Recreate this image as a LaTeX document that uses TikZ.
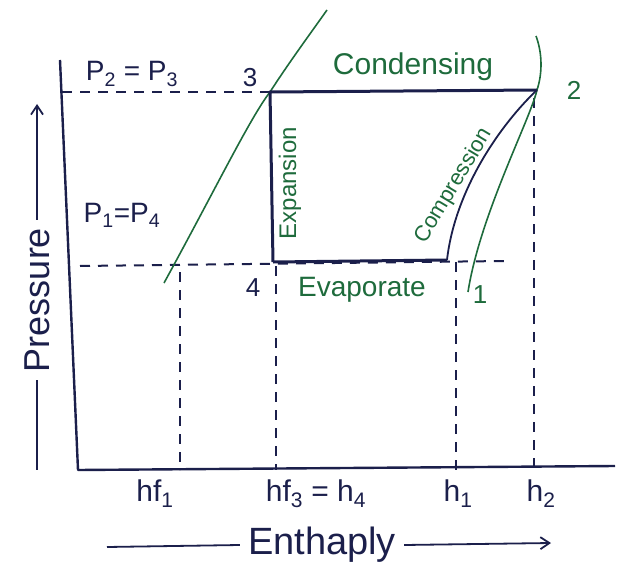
\documentclass[tikz,border=0pt]{standalone}
\usepackage{fontspec}
\setmainfont{Liberation Sans}
\usepackage{xcolor}
\usepackage{tikz}
\usetikzlibrary{arrows.meta, calc}
\definecolor{inkblue}{HTML}{1B1F4B}
\definecolor{inkgreen}{HTML}{1E6B3C}
\tikzset{
  cycleline/.style={inkblue, line width=3pt, line join=round},
  axisline/.style={inkblue, line width=2.4pt, line join=round},
  guide/.style={inkblue, line width=2pt, dash pattern=on 10pt off 8pt},
  satline/.style={inkgreen, line width=1.6pt},
  bluetxt/.style={text=inkblue, inner sep=0pt},
  greentxt/.style={text=inkgreen, inner sep=0pt},
  axisarrow/.style={inkblue, line width=1.8pt, -{Straight Barb[length=9pt, width=12pt]}},
}

\begin{document}
\begin{tikzpicture}[x=1pt, y=-1pt]
  \useasboundingbox (0,0) rectangle (619,578);
  %% state points of the cycle
  \coordinate (s3) at (270,92);
  \coordinate (s2) at (537,90);
  \coordinate (s4) at (273,262);
  \coordinate (s1) at (447,260);
  %% axes
  \coordinate (ytop) at (60,60);
  \coordinate (origin) at (78,470);
  \coordinate (xend) at (615,466);
  \draw[axisline] (ytop) -- (origin) -- (xend);
  %% pressure guides
  \draw[guide] (62,92) -- (s3);
  \draw[guide] (80,266) -- (505,261);
  %% enthalpy guides
  \foreach \x/\ytip in {180/272, 276/266, 456/262, 534/98} {
    \draw[guide] (\x,\ytip) -- (\x,470);
  }
  %% saturation dome
  \draw[satline] (164,283) .. controls (215,190) and (250,118) .. (s3)
                 .. controls (288,64) and (310,34) .. (327,10);
  \draw[satline] (536,36) .. controls (543,55) and (542,75) .. (s2)
                 .. controls (530,120) and (480,215) .. (468,292);
  %% the cycle
  \draw[cycleline] (s4) -- (s3) -- (s2);
  \draw[cycleline] (s4) -- (s1);
  \draw[inkblue, line width=1.8pt] (s1) .. controls (455,190) and (500,125) .. (s2);
  %% labels
  \node[bluetxt, font=\fontsize{28}{30}\selectfont] (lblPhigh) at (132,74) {P\textsubscript{2} = P\textsubscript{3}};
  \node[bluetxt, font=\fontsize{28}{30}\selectfont] (lblPlow) at (122,215) {P\textsubscript{1}=P\textsubscript{4}};
  \node[bluetxt, font=\fontsize{26}{28}\selectfont] (lbl3) at (250,78) {3};
  \node[greentxt, font=\fontsize{26}{28}\selectfont] (lbl2) at (574,90) {2};
  \node[bluetxt, font=\fontsize{26}{28}\selectfont] (lbl4) at (253,288) {4};
  \node[greentxt, font=\fontsize{26}{28}\selectfont] (lbl1) at (480,295) {1};
  \node[greentxt, font=\fontsize{30}{32}\selectfont] (lblcond) at (413,67) {Condensing};
  \node[greentxt, font=\fontsize{28}{30}\selectfont] (lblevap) at (362,290) {Evaporate};
  \node[greentxt, font=\fontsize{24}{26}\selectfont, rotate=90] (lblexp) at (290,183) {Expansion};
  \node[greentxt, font=\fontsize{22}{24}\selectfont, rotate=59] (lblcomp) at (454,186) {Compression};
  \foreach \x/\name/\txt in {155/hfone/hf\textsubscript{1},
                             316/hfthree/hf\textsubscript{3} = h\textsubscript{4},
                             458/hone/h\textsubscript{1},
                             541/htwo/h\textsubscript{2}} {
    \node[bluetxt, font=\fontsize{30}{32}\selectfont] (\name) at (\x,494) {\txt};
  }
  %% axis titles
  \node[bluetxt, font=\fontsize{36}{38}\selectfont, rotate=90] (pres) at (37,300) {Pressure};
  \coordinate (prestip) at (37,104);
  \coordinate (presfoot) at (37,470);
  \draw[axisarrow] ($(pres.east)+(0,-8)$) -- (prestip);
  \draw[inkblue, line width=1.8pt] ($(pres.west)+(0,8)$) -- (presfoot);
  \node[bluetxt, font=\fontsize{38}{40}\selectfont] (enth) at (322,545) {Enthaply};
  \coordinate (enthfoot) at (107,547);
  \coordinate (enthtip) at (551,543);
  \draw[inkblue, line width=1.8pt] (enthfoot) -- ($(enth.west)+(-8,0)$);
  \draw[axisarrow] ($(enth.east)+(8,0)$) -- (enthtip);
\end{tikzpicture}
\end{document}
